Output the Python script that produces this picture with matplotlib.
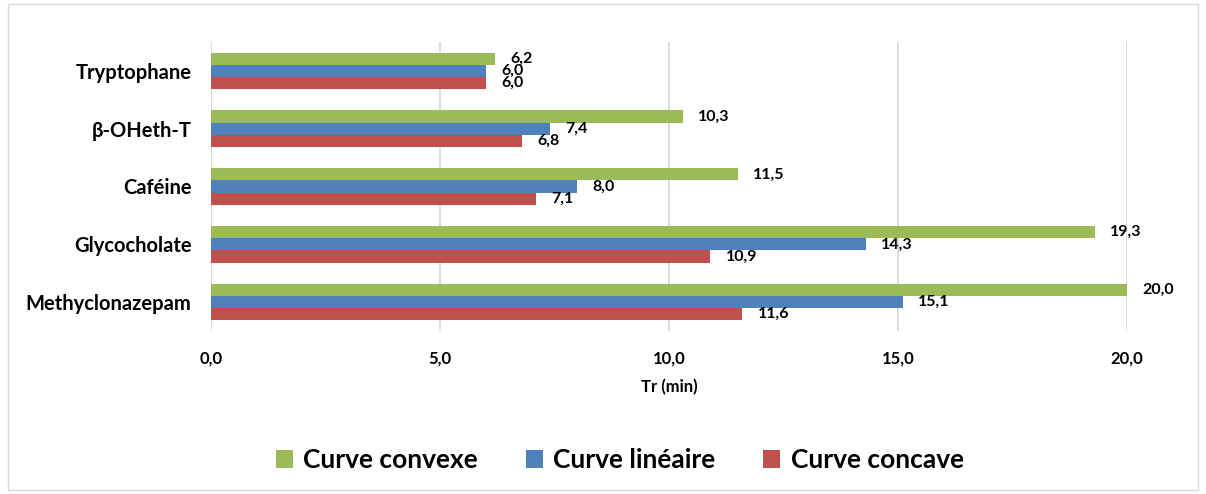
import matplotlib.pyplot as plt
import numpy as np
from matplotlib.patches import Rectangle

# Retention times (min) per compound and gradient curve
compounds = ["Tryptophane", "β-OHeth-T", "Caféine", "Glycocholate", "Methyclonazepam"]
convexe = [6.2, 10.3, 11.5, 19.3, 20.0]
lineaire = [6.0, 7.4, 8.0, 14.3, 15.1]
concave = [6.0, 6.8, 7.1, 10.9, 11.6]
xticks = [0, 5, 10, 15, 20]

series = [
    ("Curve convexe", convexe, "#9bbb59"),
    ("Curve linéaire", lineaire, "#4f81bd"),
    ("Curve concave", concave, "#c0504d"),
]

plt.rcParams['font.family'] = ['Lato', 'DejaVu Sans']
plt.rcParams['font.weight'] = 'bold'

fig = plt.figure(figsize=(12.06, 4.94), dpi=100)
ax = fig.add_axes([211 / 1206, 1 - 331 / 494, (1127 - 211) / 1206, 289 / 494])

y = np.arange(len(compounds))
h = 0.21
for i, (name, vals, col) in enumerate(series):
    pos = y + (i - 1) * h
    bars = ax.barh(pos, vals, height=h, color=col, label=name, zorder=3)
    for b, v in zip(bars, vals):
        ax.annotate(f"{v:.1f}".replace(".", ","), (b.get_width(), b.get_y() + h / 2),
                    xytext=(11, 0), textcoords="offset points",
                    ha="left", va="center", fontsize=11.5, fontweight="bold")

ax.set_xlim(0, 20)
ax.set_ylim(len(compounds) - 0.5, -0.5)
ax.set_yticks(y)
ax.set_yticklabels(compounds, fontsize=14.5, fontweight="bold")
ax.set_xticks(xticks)
ax.set_xticklabels([f"{t:.1f}".replace(".", ",") for t in xticks], fontsize=12, fontweight="bold")
ax.tick_params(length=0, pad=14)
ax.tick_params(axis="x", pad=14)
ax.xaxis.grid(True, color="#d9d9d9", lw=1.3, zorder=0)
for s in ax.spines.values():
    s.set_visible(False)
ax.set_xlabel("Tr (min)", fontsize=12, fontweight="bold", labelpad=9)

leg = fig.legend(loc="center", bbox_to_anchor=(0.514, 1 - 460 / 494), ncol=3, frameon=False,
                 fontsize=19, handlelength=0.65, handleheight=0.65, columnspacing=1.8,
                 handletextpad=0.4)
for t in leg.get_texts():
    t.set_fontweight("bold")

fig.patches.append(Rectangle((8 / 1206, 4 / 494), 1190 / 1206, 486 / 494,
                             transform=fig.transFigure, fill=False,
                             edgecolor="#d9d9d9", lw=1))

fig.savefig("out.png", dpi=100)
